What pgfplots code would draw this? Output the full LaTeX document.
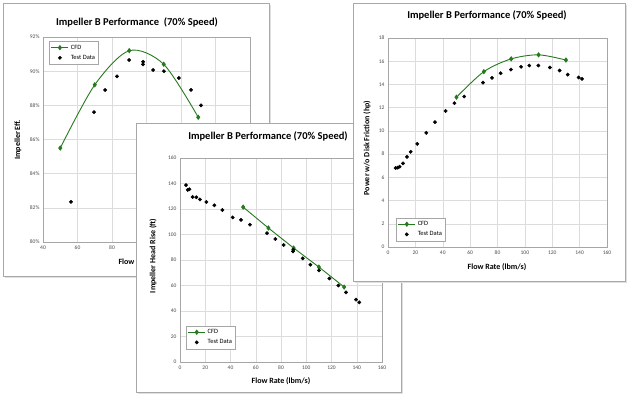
\documentclass[border=0pt]{standalone}
\usepackage{pgfplots}
\pgfplotsset{compat=1.18}
\usepackage{fontspec}
\setmainfont{Carlito}
\definecolor{cfd}{HTML}{267A1E}
\definecolor{gridc}{HTML}{DCDCDC}
\definecolor{framec}{HTML}{A6A6A6}
\definecolor{panelc}{HTML}{A8A8A8}
\pgfplotsset{panel/.style={
  scale only axis,
  axis line style={draw=framec},
  grid=major, major grid style={gridc, line width=0.4pt},
  major tick length=0pt,
  tick label style={font=\fontsize{5.5}{6.5}\selectfont, text=black!70},
  /pgf/number format/assume math mode=true,
  legend style={font=\fontsize{6.5}{7.5}\selectfont, draw=framec, row sep=0.5pt, inner sep=1.5pt},
  legend cell align=left,
  cfdstyle/.style={cfd, line width=0.9pt, mark=diamond*, mark size=2pt, mark options={fill=cfd, draw=cfd}},
  teststyle/.style={only marks, mark=*, mark size=1.7pt, black},
}}
\tikzset{ttl/.style={font=\fontsize{10.5}{12}\selectfont\bfseries},
  lbl/.style={font=\fontsize{8}{9}\selectfont\bfseries}}
\begin{document}
\begin{tikzpicture}[x=1pt,y=1pt]
\useasboundingbox (0,0) rectangle (628,398);
% ---------- Panel 1: efficiency ----------
\fill[black!12] (5,120) rectangle (271,393);
\draw[panelc, fill=white, line width=0.8pt] (3,122) rectangle (269,395);
\begin{axis}[panel, at={(43pt,156pt)}, anchor=south west, width=207pt, height=205pt,
  xmin=40, xmax=160, ymin=80, ymax=92, xtick={40,60,...,160}, ytick={80,82,...,92},
  yticklabel={\pgfmathprintnumber{\tick}\%},
  legend style={at={(rel axis cs:0.03,0.98)}, anchor=north west}]
\addplot[cfdstyle, smooth] coordinates {(50,85.5) (70,89.2) (90,91.2) (110,90.4) (130,87.3)};
\addlegendentry{CFD}
\addplot[teststyle] coordinates {(56.2,82.35) (69.6,87.6) (76,88.9) (82.9,89.7) (89.9,90.65) (98,90.55) (98,90.4) (103.8,90.07) (110.1,90.0) (118.8,89.6) (125.8,88.9) (131.6,88.0)};
\addlegendentry{Test Data}
\end{axis}
\node[ttl] at (137,376) {Impeller B Performance\ \ (70\% Speed)};
\node[lbl, rotate=90] at (18,258) {Impeller Eff.};
\node[lbl, anchor=west] at (115,136) {Flow Rate (lbm/s)};
% ---------- Panel 2: head ----------
\fill[black!12] (138,4) rectangle (403,273);
\draw[panelc, fill=white, line width=0.8pt] (136,6) rectangle (401,275);
\begin{axis}[panel, at={(180pt,36pt)}, anchor=south west, width=202pt, height=204pt,
  xmin=0, xmax=160, ymin=0, ymax=160, xtick={0,20,...,160}, ytick={0,20,...,160},
  legend style={at={(rel axis cs:0.03,0.064)}, anchor=south west}]
\addplot[cfdstyle] coordinates {(50,121.5) (70,105.1) (90,89.4) (110,74.5) (130,58.8)};
\addlegendentry{CFD}
\addplot[teststyle] coordinates {(4.75,138.7) (6.1,135.0) (7.4,135.5) (10,129.4) (12.9,129.2) (15.8,127.5) (20.9,125.5) (27.2,122.9) (33.5,119.2) (41.7,113.4) (48.3,111.4) (55.4,107.7) (68.9,101.0) (75.5,96.5) (82.1,91.8) (89.5,86.8) (89.8,88.0) (97.2,81.3) (103.3,76.3) (110.1,71.8) (118.3,65.5) (125.4,60.0) (131.5,54.6) (139.4,48.9) (142,46.8)};
\addlegendentry{Test Data}
\end{axis}
\node[ttl] at (268,262) {Impeller B Performance (70\% Speed)};
\node[lbl, rotate=90] at (153,142) {Impeller Head Rise (ft)};
\node[lbl] at (281,17) {Flow Rate (lbm/s)};
% ---------- Panel 3: power ----------
\fill[black!12] (355,115) rectangle (627,393);
\draw[panelc, fill=white, line width=0.8pt] (353,117) rectangle (625,395);
\begin{axis}[panel, at={(388pt,151pt)}, anchor=south west, width=219pt, height=209pt,
  xmin=0, xmax=160, ymin=0, ymax=18, xtick={0,20,...,160}, ytick={0,2,...,18},
  legend style={at={(rel axis cs:0.037,0.029)}, anchor=south west}]
\addplot[cfdstyle, smooth] coordinates {(50,12.9) (70,15.1) (90,16.2) (110,16.55) (130,16.1)};
\addlegendentry{CFD}
\addplot[teststyle] coordinates {(5.6,6.8) (7.1,6.84) (8.5,6.92) (11,7.2) (13.9,7.76) (16.6,8.2) (21.4,8.88) (28,9.83) (34.3,10.75) (42.1,11.72) (48.5,12.39) (55.7,12.96) (69.4,14.16) (76,14.57) (82.3,14.97) (89.8,15.28) (97.2,15.52) (103.2,15.63) (109.8,15.63) (118.3,15.46) (125.4,15.2) (131.3,14.85) (139.3,14.6) (141.7,14.48)};
\addlegendentry{Test Data}
\end{axis}
\node[ttl] at (487,383) {Impeller B Performance (70\% Speed)};
\node[lbl, rotate=90] at (367,250) {Power w/o Disk Friction (hp)};
\node[lbl] at (497,131) {Flow Rate (lbm/s)};
\end{tikzpicture}
\end{document}
